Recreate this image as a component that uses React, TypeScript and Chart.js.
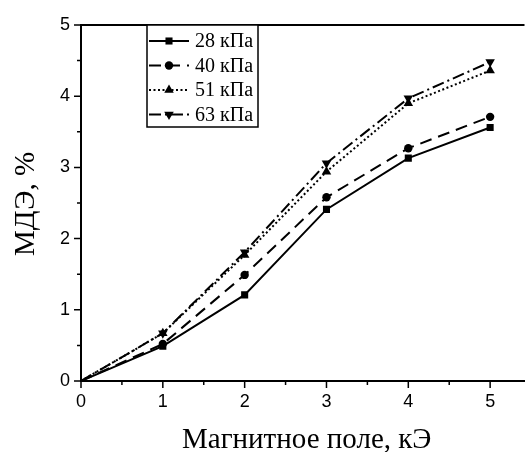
import React, { useEffect, useRef } from 'react';
import { Chart, registerables } from 'chart.js';
Chart.register(...registerables);

const fieldKOe = [0, 1, 2, 3, 4, 5];
const mde28 = [0, 0.49, 1.21, 2.41, 3.13, 3.56];
const mde40 = [0, 0.52, 1.49, 2.58, 3.27, 3.71];
const mde51 = [0, 0.67, 1.77, 2.94, 3.9, 4.36];
const mde63 = [0, 0.67, 1.81, 3.06, 3.97, 4.48];
const seriesLabels = ['28 кПа', '40 кПа', '51 кПа', '63 кПа'];
const xTicks = [0, 1, 2, 3, 4, 5];
const yTicks = [0, 1, 2, 3, 4, 5];
const xMinorTicks = [0.5, 1.5, 2.5, 3.5, 4.5];
const yMinorTicks = [0.5, 1.5, 2.5, 3.5, 4.5];
const xTitle = 'Магнитное поле, кЭ';
const yTitle = 'МДЭ, %';

const styles = [
  { dash: [] as number[], point: 'rect', radius: 5, rotation: 0 },
  { dash: [12, 7], point: 'circle', radius: 4.2, rotation: 0 },
  { dash: [2, 2.5], point: 'triangle', radius: 5.5, rotation: 0 },
  { dash: [12, 4, 2, 4], point: 'triangle', radius: 5.5, rotation: 180 },
];

function drawMarker(ctx: CanvasRenderingContext2D, style: string, r: number, rot: number, x: number, y: number) {
  ctx.save();
  ctx.fillStyle = '#000';
  ctx.beginPath();
  if (style === 'rect') {
    const s = Math.SQRT1_2 * r;
    ctx.rect(x - s, y - s, 2 * s, 2 * s);
  } else if (style === 'circle') {
    ctx.arc(x, y, r, 0, Math.PI * 2);
  } else {
    const sign = rot === 180 ? -1 : 1;
    ctx.moveTo(x, y - sign * r);
    ctx.lineTo(x - r * 0.866, y + sign * r * 0.5);
    ctx.lineTo(x + r * 0.866, y + sign * r * 0.5);
    ctx.closePath();
  }
  ctx.fill();
  ctx.restore();
}

const decorPlugin = {
  id: 'decor',
  afterDraw(chart: any) {
    const ctx = chart.ctx;
    const ca = chart.chartArea;
    const xs = chart.scales.x;
    const ys = chart.scales.y;
    ctx.save();
    ctx.strokeStyle = '#000';
    ctx.lineWidth = 2;
    ctx.beginPath();
    ctx.moveTo(ca.left - 1, ca.top);
    ctx.lineTo(ca.right, ca.top);
    ctx.stroke();

    ctx.lineWidth = 1.5;
    ctx.beginPath();
    xTicks.forEach((v) => {
      const px = xs.getPixelForValue(v);
      ctx.moveTo(px, ca.bottom);
      ctx.lineTo(px, ca.bottom + 7);
    });
    xMinorTicks.forEach((v) => {
      const px = xs.getPixelForValue(v);
      ctx.moveTo(px, ca.bottom);
      ctx.lineTo(px, ca.bottom + 4);
    });
    yTicks.forEach((v) => {
      const py = ys.getPixelForValue(v);
      ctx.moveTo(ca.left, py);
      ctx.lineTo(ca.left - 7, py);
    });
    yMinorTicks.forEach((v) => {
      const py = ys.getPixelForValue(v);
      ctx.moveTo(ca.left, py);
      ctx.lineTo(ca.left - 4, py);
    });
    ctx.stroke();

    ctx.fillStyle = '#000';
    ctx.font = "29px 'Liberation Serif'";
    ctx.textAlign = 'center';
    ctx.textBaseline = 'alphabetic';
    ctx.fillText(xTitle, (ca.left + ca.right) / 2 + 4, 448);
    ctx.save();
    ctx.font = "29px 'Liberation Serif'";
    ctx.translate(34, 204);
    ctx.rotate(-Math.PI / 2);
    ctx.fillText(yTitle, 0, 0);
    ctx.restore();

    const bx = 147, by = ca.top, bw = 111, bh = 102;
    ctx.fillStyle = '#fff';
    ctx.fillRect(bx, by, bw, bh);
    ctx.lineWidth = 1.5;
    ctx.strokeStyle = '#000';
    ctx.strokeRect(bx, by, bw, bh);
    ctx.font = "20px 'Liberation Serif'";
    ctx.textAlign = 'left';
    ctx.textBaseline = 'middle';
    seriesLabels.forEach((lab, i) => {
      const cy = by + 16 + i * 24.5;
      const st = styles[i];
      ctx.strokeStyle = '#000';
      ctx.lineWidth = 2;
      ctx.setLineDash(st.dash);
      ctx.beginPath();
      ctx.moveTo(149, cy);
      ctx.lineTo(189, cy);
      ctx.stroke();
      ctx.setLineDash([]);
      drawMarker(ctx, st.point, st.radius, st.rotation, 169, cy);
      ctx.fillStyle = '#000';
      ctx.fillText(lab, 195, cy + 1);
    });
    ctx.restore();
  },
};

export default function App() {
  const ref = useRef<HTMLCanvasElement | null>(null);
  useEffect(() => {
    if (!ref.current) return;
    const series = [mde28, mde40, mde51, mde63];
    const chart = new Chart(ref.current, {
      type: 'line',
      data: {
        datasets: series.map((arr, i) => ({
          label: seriesLabels[i],
          data: fieldKOe.map((x, j) => ({ x, y: arr[j] })),
          borderColor: '#000',
          backgroundColor: '#000',
          borderWidth: 2,
          borderDash: styles[i].dash,
          pointStyle: styles[i].point as any,
          pointRotation: styles[i].rotation,
          pointRadius: (c: any) => (c.dataIndex === 0 ? 0 : styles[i].radius),
          pointBorderWidth: 0,
          pointBackgroundColor: '#000',
          tension: 0,
          fill: false,
        })),
      },
      options: {
        animation: false,
        responsive: false,
        events: [],
        layout: { padding: { top: 25, right: 0, left: 0, bottom: 0 } },
        plugins: { legend: { display: false }, tooltip: { enabled: false } },
        scales: {
          x: {
            type: 'linear',
            min: 0,
            max: 5.42,
            afterBuildTicks: (s: any) => {
              s.ticks = xTicks.map((v) => ({ value: v }));
            },
            afterFit: (s: any) => {
              s.height = 71;
            },
            grid: { display: false, drawTicks: false },
            border: { display: true, color: '#000', width: 2 },
            ticks: {
              color: '#000',
              padding: 10,
              font: { family: "'Liberation Sans'", size: 18 },
              maxRotation: 0,
              callback: (v: any) => String(v),
            },
          },
          y: {
            type: 'linear',
            min: 0,
            max: 5,
            afterBuildTicks: (s: any) => {
              s.ticks = yTicks.map((v) => ({ value: v }));
            },
            afterFit: (s: any) => {
              s.width = 81;
            },
            grid: { display: false, drawTicks: false },
            border: { display: true, color: '#000', width: 2 },
            ticks: {
              color: '#000',
              padding: 11,
              font: { family: "'Liberation Sans'", size: 18 },
              callback: (v: any) => String(v),
            },
          },
        },
      },
      plugins: [decorPlugin],
    });
    return () => chart.destroy();
  }, []);
  return (
    <div style={{ position: 'fixed', left: 0, top: 0, width: 530, height: 452, overflow: 'hidden', background: '#fff' }}>
      <canvas ref={ref} width={530} height={452} style={{ display: 'block' }} />
    </div>
  );
}
